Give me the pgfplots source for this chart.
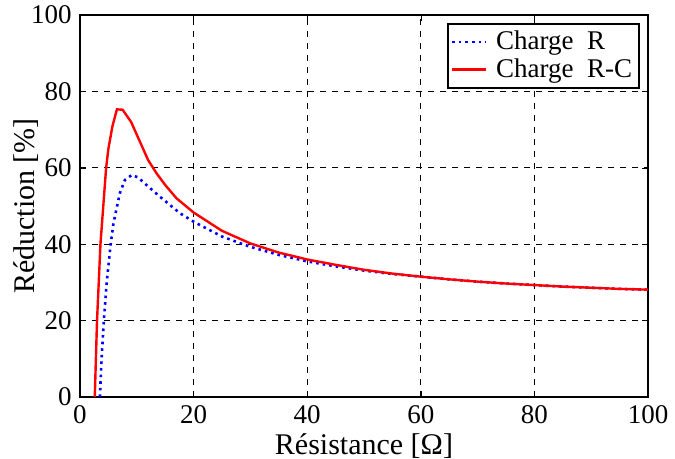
\documentclass[12pt,border=0pt]{standalone}
\usepackage{fontspec}
\setmainfont{Liberation Serif}
\usepackage{pgfplots}
\pgfplotsset{compat=1.18}
\begin{document}
\begin{tikzpicture}
\useasboundingbox (-40pt,-31pt) rectangle (297.5pt,198.5pt);
\begin{axis}[
  at={(0,0)}, anchor=south west,
  scale only axis, width=284pt, height=191pt,
  xmin=0, xmax=100, ymin=0, ymax=100,
  xtick={0,20,...,100}, ytick={0,20,...,100},
  grid=major,
  major grid style={dashed, black, line width=0.6pt},
  axis line style={black, line width=0.6pt},
  tick style={black},
  major tick length=3pt,
  /pgf/number format/assume math mode=true,
  ticklabel style={font=\fontsize{13.5}{16}\selectfont},
  label style={font=\fontsize{15}{18}\selectfont},
  xlabel={Résistance [Ω]},
  ylabel={Réduction [\%]},
  xlabel style={yshift=3pt},
  ylabel style={at={(axis description cs:-0.095,0.5)}, anchor=center},
  legend style={at={(0.986,0.979)}, anchor=north east, draw=black, line width=1pt, fill=white, inner sep=1.5pt, row sep=-1.5pt, font=\fontsize{13.5}{15}\selectfont},
  legend cell align=left,
]
\addplot[blue, dotted, line width=1.3pt] coordinates {
(3.5,0) (3.8,10) (4.2,20) (4.7,30) (5.4,40) (5.9,45.5) (7.0,53.3) (7.9,56.8) (9.1,58.1) (10.2,57.5) (11.7,55.5) (14.1,52.4) (17.6,48.1) (20,45.9) (25,42) (30,39.3) (35,37.2) (40,35.5) (45,34.2) (50,33.1) (55,32.2) (60,31.5) (65,30.8) (70,30.2) (75,29.7) (80,29.3) (85,28.9) (90,28.6) (95,28.3) (100,28.1)
};
\addlegendentry{\,Charge\ \ R\hspace{2pt}}
\addplot[red, line width=1.2pt] coordinates {
(2.6,0) (3.0,20) (3.6,40) (4.2,52) (4.6,60) (5.0,65) (5.7,70.8) (6.5,75.3) (7.5,75.2) (9,72) (10.5,67) (12,62) (13.5,58.5) (15,55.5) (17,52) (20,48.3) (25,43.5) (30,40.2) (35,37.8) (40,36) (45,34.6) (50,33.3) (55,32.3) (60,31.5) (65,30.8) (70,30.2) (75,29.7) (80,29.3) (85,28.9) (90,28.6) (95,28.3) (100,28.1)
};
\addlegendentry{\,Charge\ \ R-C\hspace{2pt}}
\end{axis}
\end{tikzpicture}
\end{document}
